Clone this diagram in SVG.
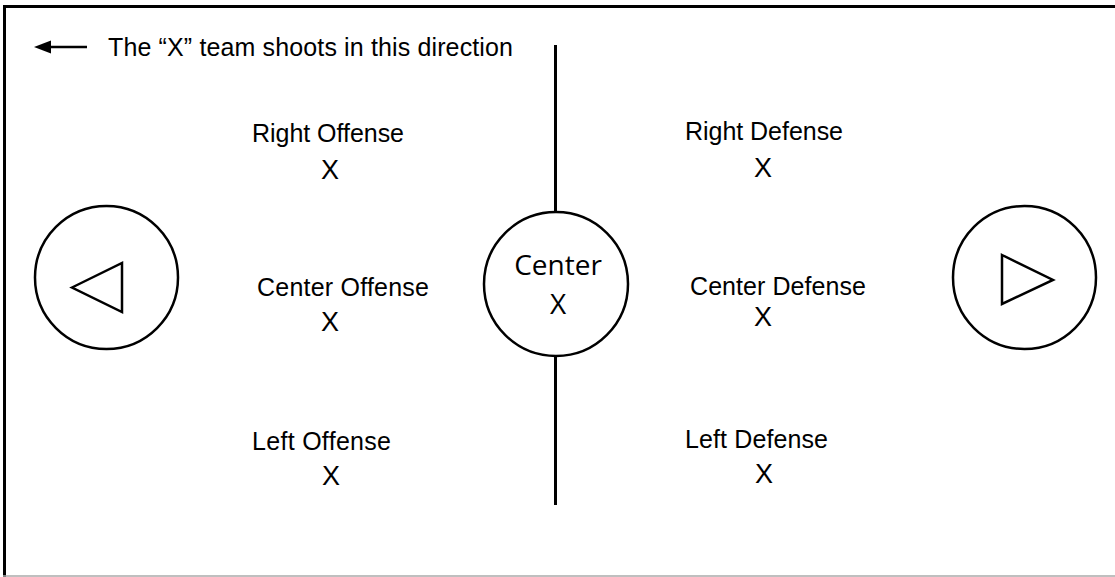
<svg xmlns="http://www.w3.org/2000/svg" width="1115" height="577" viewBox="0 0 1115 577">
  <defs>
    <style>
      .frame { fill: none; stroke: #000; stroke-width: 3; }
      .ring { fill: #fff; stroke: #000; stroke-width: 2.5; }
      .tri { fill: none; stroke: #000; stroke-width: 2.5; stroke-linejoin: miter; }
      .lbl { font-family: "Liberation Sans", Arial, sans-serif; font-size: 25px; fill: #000; }
      .mark { font-family: "Liberation Sans", Arial, sans-serif; font-size: 27px; fill: #000; text-anchor: middle; }
      .ctr { font-family: "Open Sans", "Liberation Sans", sans-serif; font-size: 28px; fill: #000; text-anchor: middle; }
    </style>
  </defs>

  <rect width="1115" height="577" fill="#fff"/>

  <!-- outer frame: heavy top and left, light bottom -->
  <path class="frame" d="M4.5,577 V6.5 H1115"/>
  <line x1="3" y1="576" x2="1115" y2="576" stroke="#aaa" stroke-width="1.5"/>

  <!-- shooting direction note -->
  <g id="direction">
    <line x1="48" y1="47" x2="87" y2="47" stroke="#000" stroke-width="2.5"/>
    <polygon points="34,47 51,40.5 51,53.5" fill="#000"/>
    <text class="lbl" x="108" y="56" font-size="25.5" textLength="405" lengthAdjust="spacing">The “X” team shoots in this direction</text>
  </g>

  <!-- connectors: centre line -->
  <g id="connectors">
    <line x1="555.5" y1="45" x2="555.5" y2="505" stroke="#000" stroke-width="3"/>
  </g>

  <!-- goals -->
  <g id="goal-left">
    <circle class="ring" cx="106.5" cy="277.5" r="71.5"/>
    <polygon class="tri" points="72,287.5 122,263 122,312"/>
  </g>
  <g id="goal-right">
    <circle class="ring" cx="1024.5" cy="277.5" r="71.5"/>
    <polygon class="tri" points="1002,255 1053,280 1002,304"/>
  </g>

  <!-- centre -->
  <g id="center">
    <circle class="ring" cx="556" cy="284" r="72"/>
    <text class="ctr" x="558" y="275">Center</text>
    <text class="ctr" x="558" y="314">X</text>
  </g>

  <!-- offense -->
  <g id="right-offense">
    <text class="lbl" x="252" y="142" textLength="152">Right Offense</text>
    <text class="mark" x="330" y="179">X</text>
  </g>
  <g id="center-offense">
    <text class="lbl" x="257" y="296" textLength="172">Center Offense</text>
    <text class="mark" x="330" y="331">X</text>
  </g>
  <g id="left-offense">
    <text class="lbl" x="252" y="450" textLength="139">Left Offense</text>
    <text class="mark" x="331" y="485">X</text>
  </g>

  <!-- defense -->
  <g id="right-defense">
    <text class="lbl" x="685" y="140" textLength="158">Right Defense</text>
    <text class="mark" x="763" y="177">X</text>
  </g>
  <g id="center-defense">
    <text class="lbl" x="690" y="295" textLength="176">Center Defense</text>
    <text class="mark" x="763" y="326">X</text>
  </g>
  <g id="left-defense">
    <text class="lbl" x="685" y="448" textLength="143">Left Defense</text>
    <text class="mark" x="764" y="483">X</text>
  </g>
</svg>
